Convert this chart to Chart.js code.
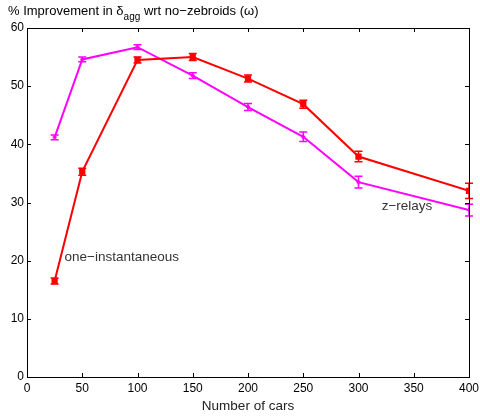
<!DOCTYPE html>
<html>
<head>
<meta charset="utf-8">
<script src="https://cdn.jsdelivr.net/npm/chart.js@4.4.0/dist/chart.umd.min.js"></script>
<style>
  html, body { margin: 0; padding: 0; background: #fff; }
  #wrap { width: 480px; height: 416px; }
</style>
</head>
<body>
<div id="wrap"><canvas id="chart-main"></canvas></div>
<script>
const cars = [25, 50, 100, 150, 200, 250, 300, 400];
const oneInstantaneous = [16.5, 35.3, 54.5, 55.0, 51.3, 46.9, 37.9, 32.0];
const oneInstantaneousErr = [0.5, 0.6, 0.5, 0.6, 0.6, 0.7, 0.9, 1.3];
const zRelays = [41.2, 54.6, 56.7, 51.8, 46.4, 41.3, 33.5, 28.7];
const zRelaysErr = [0.4, 0.4, 0.4, 0.5, 0.6, 0.8, 1.0, 1.0];
const xTicks = [0, 50, 100, 150, 200, 250, 300, 350, 400];
const yTicks = [0, 10, 20, 30, 40, 50, 60];
const curveLabels = [
    { text: 'one\u2212instantaneous', x: 34, y: 20.6 },
    { text: 'z\u2212relays', x: 321, y: 29.3 }
];

const FONT = '"Liberation Sans", Arial, sans-serif';

function toPoints(xs, ys) {
    return xs.map((x, i) => ({ x: x, y: ys[i] }));
}

// error bars + box + inward ticks + labels, MATLAB style
const matlabPlugin = {
    id: 'matlab',
    afterDatasetsDraw(chart) {
        const ctx = chart.ctx;
        const xs = chart.scales.x;
        const ys = chart.scales.y;
        const errs = [oneInstantaneousErr, zRelaysErr];
        chart.data.datasets.forEach(function (ds, d) {
            ctx.save();
            ctx.strokeStyle = ds.borderColor;
            ctx.lineWidth = 1.5;
            ds.data.forEach(function (p, i) {
                let px = xs.getPixelForValue(p.x);
                let top = ys.getPixelForValue(p.y + errs[d][i]);
                let bot = ys.getPixelForValue(p.y - errs[d][i]);
                ctx.beginPath();
                ctx.moveTo(px, top); ctx.lineTo(px, bot);
                ctx.moveTo(px - 4, top); ctx.lineTo(px + 4, top);
                ctx.moveTo(px - 4, bot); ctx.lineTo(px + 4, bot);
                ctx.stroke();
            });
            ctx.restore();
        });
    },
    afterDraw(chart) {
        const ctx = chart.ctx;
        const a = chart.chartArea;
        const xs = chart.scales.x;
        const ys = chart.scales.y;
        ctx.save();
        ctx.strokeStyle = '#000';
        ctx.lineWidth = 1;
        ctx.strokeRect(a.left + 0.5, a.top + 0.5, a.right - a.left, a.bottom - a.top);
        ctx.beginPath();
        xTicks.forEach(function (v) {
            let px = Math.round(xs.getPixelForValue(v)) + 0.5;
            ctx.moveTo(px, a.bottom); ctx.lineTo(px, a.bottom - 4);
            ctx.moveTo(px, a.top); ctx.lineTo(px, a.top + 4);
        });
        yTicks.forEach(function (v) {
            let py = Math.round(ys.getPixelForValue(v)) + 0.5;
            ctx.moveTo(a.left, py); ctx.lineTo(a.left + 4, py);
            ctx.moveTo(a.right, py); ctx.lineTo(a.right - 4, py);
        });
        ctx.stroke();

        ctx.fillStyle = '#333';
        ctx.font = '13.5px ' + FONT;
        ctx.textBaseline = 'middle';
        ctx.textAlign = 'left';
        curveLabels.forEach(function (l) {
            ctx.fillText(l.text, xs.getPixelForValue(l.x), ys.getPixelForValue(l.y));
        });

        // y axis label on top
        ctx.fillStyle = '#000';
        ctx.font = '13px ' + FONT;
        ctx.textBaseline = 'alphabetic';
        let x = 8;
        let s1 = '% Improvement in \u03b4';
        ctx.fillText(s1, x, 15);
        x += ctx.measureText(s1).width;
        ctx.font = '10px ' + FONT;
        ctx.fillText('agg', x, 20);
        x += ctx.measureText('agg').width;
        ctx.font = '13px ' + FONT;
        ctx.fillText(' wrt no\u2212zebroids (\u03c9)', x, 15);
        ctx.restore();
    }
};

new Chart(document.getElementById('chart-main'), {
    type: 'line',
    data: {
        datasets: [
            {
                label: 'one-instantaneous',
                data: toPoints(cars, oneInstantaneous),
                borderColor: 'rgb(255,0,0)',
                backgroundColor: 'rgb(255,0,0)',
                borderWidth: 2,
                pointStyle: 'rect',
                pointRadius: 3,
                tension: 0
            },
            {
                label: 'z-relays',
                data: toPoints(cars, zRelays),
                borderColor: 'rgb(255,0,255)',
                backgroundColor: 'rgb(255,0,255)',
                borderWidth: 2,
                pointStyle: 'cross',
                pointRadius: 2,
                tension: 0
            }
        ]
    },
    options: {
        responsive: true,
        maintainAspectRatio: false,
        animation: false,
        layout: { padding: { top: 28, right: 11, left: 0, bottom: 0 } },
        plugins: {
            legend: { display: false },
            tooltip: { enabled: false }
        },
        scales: {
            x: {
                type: 'linear',
                min: 0,
                max: 400,
                afterBuildTicks: function (s) { s.ticks = xTicks.map(v => ({ value: v })); },
                afterFit: function (s) {
                    s.height = 39;
                    s.paddingLeft = 0;
                    s.paddingRight = 0;
                },
                grid: { display: false, drawTicks: false },
                border: { display: false },
                ticks: { color: '#000', font: { family: FONT, size: 12 }, padding: 4, maxRotation: 0 },
                title: {
                    display: true,
                    text: 'Number of cars',
                    color: '#222',
                    font: { family: FONT, size: 13.5 },
                    padding: { top: 0, bottom: 2 }
                }
            },
            y: {
                type: 'linear',
                min: 0,
                max: 60,
                afterBuildTicks: function (s) { s.ticks = yTicks.map(v => ({ value: v })); },
                afterFit: function (s) {
                    s.width = 27;
                    s.paddingTop = 0;
                    s.paddingBottom = 0;
                },
                grid: { display: false, drawTicks: false },
                border: { display: false },
                ticks: { color: '#000', font: { family: FONT, size: 12 }, padding: 3 }
            }
        }
    },
    plugins: [matlabPlugin]
});
</script>
</body>
</html>
